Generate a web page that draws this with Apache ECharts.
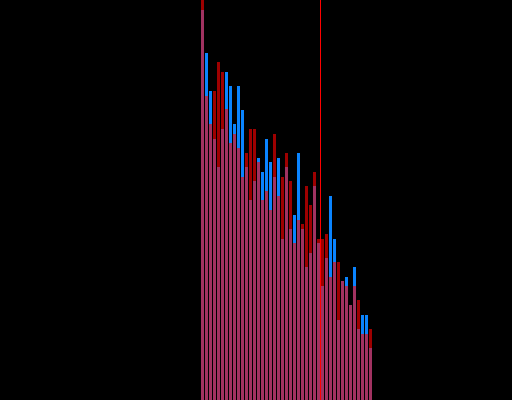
<!DOCTYPE html>
<html>
<head>
<meta charset="utf-8">
<script src="https://cdn.jsdelivr.net/npm/echarts@6/dist/echarts.min.js"></script>
<style>
  html, body { margin: 0; padding: 0; background: #000; }
  #chart { width: 512px; height: 400px; }
</style>
</head>
<body>
<div id="chart"></div>
<script>
// bin indices
var bins = [0,1,2,3,4,5,6,7,8,9,10,11,12,13,14,15,16,17,18,19,20,21,22,23,24,25,26,27,28,29,30,31,32,33,34,35,36,37,38,39,40,41,42];
// series A (blue)
var blueValues = [390,347,309,261,233,271,328,314,276,314,290,233,200,219,242,228,261,238,223,242,161,233,171,185,247,171,133,147,214,157,114,142,204,161,80,119,123,95,133,71,85,85,52];
// series B (red, translucent)
var redValues = [400,304,276,309,338,328,291,257,266,252,223,247,271,271,238,200,209,190,266,204,223,247,219,157,180,176,214,195,228,161,161,166,123,138,138,119,114,95,114,100,66,66,71];
// threshold marker position (between bins)
var threshold = 29.5;

var chart = echarts.init(document.getElementById('chart'), null, { renderer: 'canvas' });

function pairs(vals) {
  return bins.map(function (b, i) { return [b, vals[i]]; });
}

chart.setOption({
  backgroundColor: '#000000',
  animation: false,
  grid: { left: 0, right: 0, top: 0, bottom: 0, containLabel: false },
  xAxis: {
    type: 'value', min: -50.625, max: 77.375,
    show: false, splitLine: { show: false }
  },
  yAxis: {
    type: 'value', min: 0, max: 400,
    show: false, splitLine: { show: false }
  },
  series: [
    {
      type: 'bar',
      data: pairs(blueValues),
      barWidth: 3,
      barGap: '-100%',
      itemStyle: { color: '#0a84ff' },
      z: 2
    },
    {
      type: 'bar',
      data: pairs(redValues),
      barWidth: 3,
      barGap: '-100%',
      itemStyle: { color: '#ff0000', opacity: 0.62 },
      z: 3,
      markLine: {
        silent: true,
        symbol: 'none',
        label: { show: false },
        emphasis: { disabled: true },
        lineStyle: { color: '#ff0000', width: 1, type: 'solid', opacity: 1 },
        data: [{ xAxis: threshold }]
      }
    }
  ]
});
</script>
</body>
</html>
